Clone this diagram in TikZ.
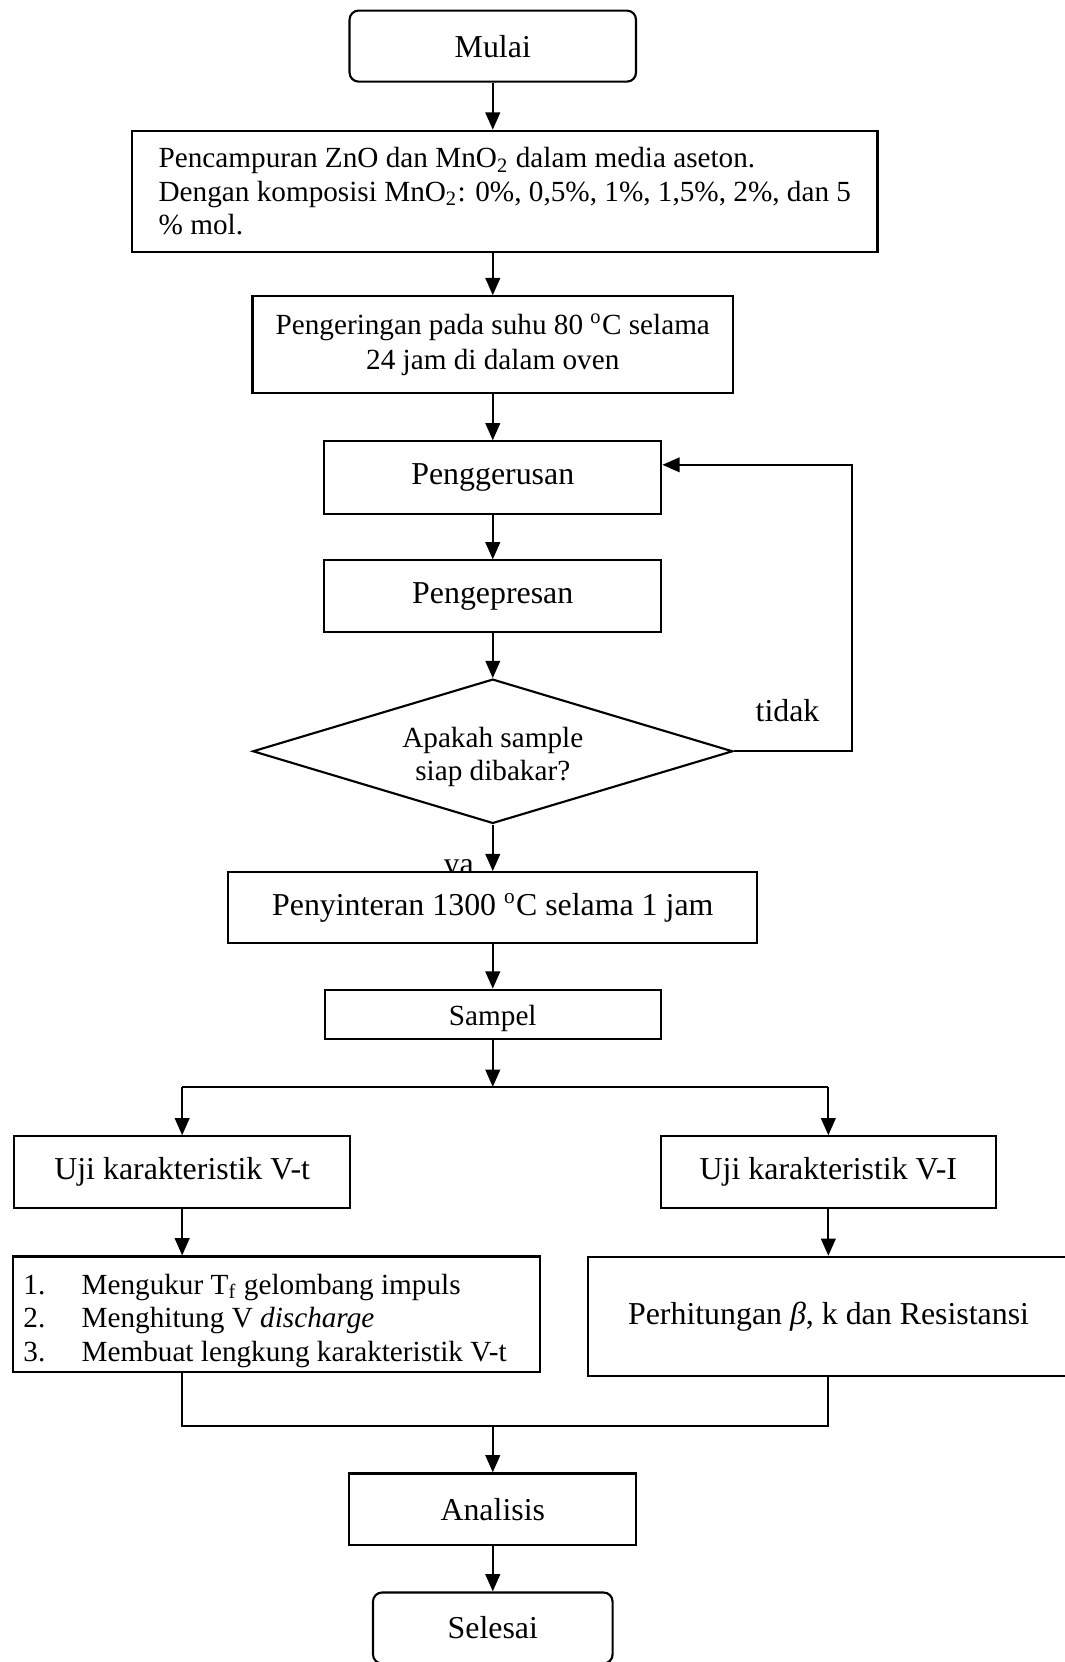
\documentclass[tikz,border=0pt]{standalone}
\usepackage{fontspec}
\setmainfont{Liberation Serif}
\usetikzlibrary{shapes.geometric, positioning, arrows.meta, calc}

\begin{document}
\begin{tikzpicture}
\tikzset{proc/.style={draw, rectangle, line width=0.8pt, fill=white, inner sep=0pt, font=\fontsize{12}{14.4}\selectfont},
  small/.style={font=\fontsize{11}{12.6}\selectfont},
  term/.style={proc, rounded corners=0.12cm},
  decide/.style={draw, diamond, line width=0.8pt, inner sep=0pt, aspect=3.36, font=\fontsize{11}{12.7}\selectfont},
  arr/.style={-{Triangle[length=6.5pt, width=5.5pt]}, line width=0.8pt},
  lbl/.style={font=\fontsize{12}{14.4}\selectfont}}
\useasboundingbox (0,0) rectangle (14.09,-21.99);
\node[term, minimum width=3.79cm, minimum height=0.94cm] (start) at (6.52,-0.61) {Mulai};
\node[proc, small, align=left, minimum width=9.86cm, minimum height=1.60cm] (mix) at (6.68,-2.53) {Pencampuran ZnO dan MnO\textsubscript{2} dalam media aseton.\\ Dengan komposisi MnO\textsubscript{2}: 0\%, 0,5\%, 1\%, 1,5\%, 2\%, dan 5\\ \% mol.};
\node[proc, small, align=center, minimum width=6.36cm, minimum height=1.28cm, font=\fontsize{11}{13.1}\selectfont] (dry) at (6.52,-4.56) {Pengeringan pada suhu 80 \textsuperscript{o}C selama\\ 24 jam di dalam oven};
\node[proc, minimum width=4.46cm, minimum height=0.96cm] (grind) at (6.52,-6.32) {Penggerusan};
\node[proc, minimum width=4.46cm, minimum height=0.95cm] (press) at (6.52,-7.89) {Pengepresan};
\node[decide, minimum width=6.35cm, minimum height=1.91cm] (check) at (6.52,-9.94) {\raisebox{-2.2pt}[\height][\depth]{\begin{tabular}{@{}c@{}}Apakah sample\\ siap dibakar?\end{tabular}}};
\node[lbl] (no) at (10.42,-9.40) {tidak};
\node[lbl, anchor=base] (yes) at (6.07,-11.57) {ya};
\node[proc, minimum width=7.0cm, minimum height=0.94cm] (sinter) at (6.52,-12.01) {Penyinteran 1300 \textsuperscript{o}C selama 1 jam};
\node[proc, small, minimum width=4.44cm, minimum height=0.65cm] (sample) at (6.52,-13.42) {\raisebox{-1.5pt}[\height][\depth]{Sampel}};
\node[proc, minimum width=4.44cm, minimum height=0.95cm] (testvt) at (2.41,-15.51) {Uji karakteristik V-t};
\node[proc, minimum width=4.44cm, minimum height=0.95cm] (testvi) at (10.96,-15.51) {Uji karakteristik V-I};
\node[proc, small, inner xsep=0.14cm, minimum height=1.53cm] (listvt) at (3.66,-17.39) {\raisebox{-2.6pt}[\height][\depth]{\begin{tabular}{@{}p{6.70cm}@{}}\makebox[0.77cm][l]{1.}Mengukur T\textsubscript{f} gelombang impuls\\ \makebox[0.77cm][l]{2.}Menghitung V \textit{discharge}\\ \makebox[0.77cm][l]{3.}Membuat lengkung karakteristik V-t\end{tabular}}};
\node[proc, text width=6.2cm, align=flush left, inner xsep=0.53cm, minimum height=1.58cm] (calcvi) at (11.41,-17.42) {Perhitungan \textit{β}, k dan Resistansi};
\node[proc, minimum width=3.80cm, minimum height=0.95cm] (analysis) at (6.52,-19.97) {Analisis};
\node[term, minimum width=3.17cm, minimum height=0.94cm] (finish) at (6.52,-21.54) {Selesai};
\coordinate (loop) at (11.27,-6.15); \coordinate (split) at (6.52,-14.38); \coordinate (merge) at (6.52,-18.87);
\draw[arr] (start) -- (start |- mix.north); \draw[arr] (mix.south -| start) -- (dry);
\draw[arr] (dry) -- (grind); \draw[arr] (grind) -- (press); \draw[arr] (press) -- (check);
\draw[arr] (check.east) -| (loop) -- (loop -| grind.east);
\draw[arr] (check) -- (sinter); \draw[arr] (sinter) -- (sample);
\draw[arr] (sample) -- (split); \draw[line width=0.8pt] (testvt |- split) -- (testvi |- split);
\draw[arr] (testvt |- split) -- (testvt); \draw[arr] (testvi |- split) -- (testvi);
\draw[arr] (testvt) -- (testvt |- listvt.north); \draw[arr] (testvi) -- (testvi |- calcvi.north);
\draw[line width=0.8pt] (testvt |- listvt.south) |- (merge) -| (testvi |- calcvi.south);
\draw[arr] (merge) -- (analysis); \draw[arr] (analysis) -- (finish);
\end{tikzpicture}
\end{document}
